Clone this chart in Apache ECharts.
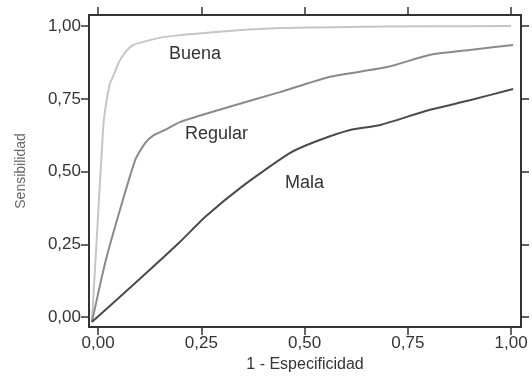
<!DOCTYPE html>
<html>
<head>
<meta charset="utf-8">
<script src="https://cdn.jsdelivr.net/npm/echarts@6/dist/echarts.min.js"></script>
<style>
  html, body { margin: 0; padding: 0; background: #fff; }
  #chart { width: 532px; height: 377px; }
</style>
</head>
<body>
<div id="chart"></div>
<script>
// ROC curves
const buenaX = [-0.015, -0.002, 0.012, 0.017, 0.029, 0.036, 0.05, 0.07, 0.085, 0.12, 0.157, 0.278, 0.44, 0.6, 0.8, 1.0];
const buenaY = [-0.017, 0.30, 0.643, 0.711, 0.804, 0.825, 0.875, 0.917, 0.935, 0.95, 0.962, 0.979, 0.993, 0.997, 0.999, 1.0];

const regularX = [-0.015, 0.017, 0.048, 0.09, 0.114, 0.135, 0.162, 0.198, 0.30, 0.44, 0.56, 0.70, 0.80, 0.90, 1.005];
const regularY = [-0.017, 0.186, 0.344, 0.54, 0.598, 0.625, 0.643, 0.67, 0.715, 0.773, 0.825, 0.859, 0.90, 0.918, 0.935];

const malaX = [-0.015, 0.1, 0.198, 0.259, 0.35, 0.465, 0.53, 0.61, 0.683, 0.80, 0.90, 1.005];
const malaY = [-0.017, 0.13, 0.258, 0.344, 0.45, 0.564, 0.605, 0.643, 0.66, 0.711, 0.745, 0.784];

const tickValues = [0, 0.25, 0.5, 0.75, 1.0];

const zip = (xs, ys) => xs.map((x, i) => [x, ys[i]]);
const fmt = v => v.toFixed(2).replace('.', ',');

const chart = echarts.init(document.getElementById('chart'));

const font = 'Liberation Sans, Arial, sans-serif';
const lineCol = '#333';

function axisBase(min, max, show) {
  return {
    type: 'value',
    min: min,
    max: max,
    splitLine: { show: false },
    axisLine: { show: true, onZero: false, lineStyle: { color: lineCol, width: 2 } },
    axisTick: { show: true, customValues: tickValues, length: 8, lineStyle: { color: lineCol, width: 1.5 } },
    axisLabel: {
      show: show,
      customValues: tickValues,
      formatter: fmt,
      color: '#333',
      fontSize: 17,
      fontFamily: font
    }
  };
}

const xMin = -0.022, xMax = 1.024, yMin = -0.034, yMax = 1.038;

chart.setOption({
  animation: false,
  grid: { left: 89, top: 15, right: 11, bottom: 50, containLabel: false, outerBoundsMode: 'none' },
  xAxis: [
    Object.assign(axisBase(xMin, xMax, true), {
      position: 'bottom',
      name: '1 - Especificidad',
      nameLocation: 'middle',
      nameGap: 28,
      nameTextStyle: { color: '#333', fontSize: 16, fontFamily: font }
    }),
    Object.assign(axisBase(xMin, xMax, false), { position: 'top' })
  ],
  yAxis: [
    Object.assign(axisBase(yMin, yMax, true), {
      position: 'left',
      name: 'Sensibilidad',
      nameLocation: 'middle',
      nameGap: 61,
      nameTextStyle: { color: '#666', fontSize: 14, fontFamily: font }
    }),
    Object.assign(axisBase(yMin, yMax, false), { position: 'right' })
  ],
  series: [
    {
      name: 'Buena', type: 'line', symbol: 'none', smooth: 0.2,
      lineStyle: { color: '#c6c6c6', width: 2 },
      data: zip(buenaX, buenaY)
    },
    {
      name: 'Regular', type: 'line', symbol: 'none', smooth: 0.2,
      lineStyle: { color: '#8a8a8a', width: 2 },
      data: zip(regularX, regularY)
    },
    {
      name: 'Mala', type: 'line', symbol: 'none', smooth: 0.2,
      lineStyle: { color: '#4a4a4a', width: 2 },
      data: zip(malaX, malaY)
    }
  ],
  graphic: [
    { type: 'text', left: 169, top: 45, style: { text: 'Buena', fontSize: 18, fontFamily: font, fill: '#333' } },
    { type: 'text', left: 185, top: 125, style: { text: 'Regular', fontSize: 18, fontFamily: font, fill: '#333' } },
    { type: 'text', left: 285, top: 174, style: { text: 'Mala', fontSize: 18, fontFamily: font, fill: '#333' } }
  ]
});
</script>
</body>
</html>
